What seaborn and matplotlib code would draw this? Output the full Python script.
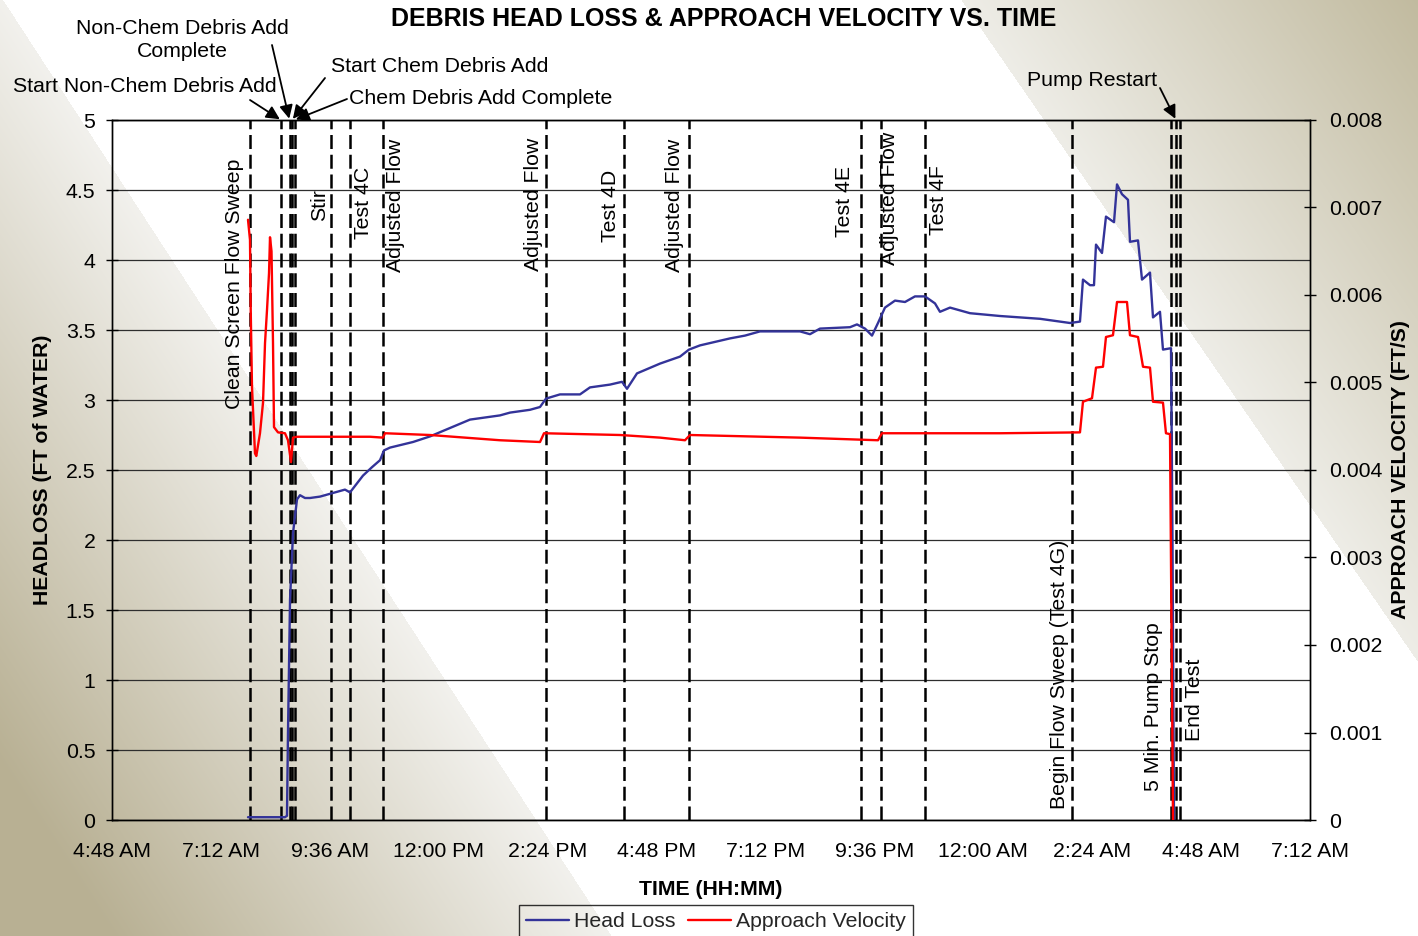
import numpy as np
import matplotlib
matplotlib.use("Agg")
import matplotlib.pyplot as plt
import matplotlib.transforms as mtransforms
from matplotlib.ticker import FixedLocator, FuncFormatter
import seaborn as sns

# ---------------------------------------------------------------------------
# Data (time in hours from midnight of the first test day)
# ---------------------------------------------------------------------------
headloss_hours = [7.797, 8.061, 8.612, 8.656, 8.678, 8.723, 8.789, 8.877, 8.943, 9.053,
                  9.163, 9.384, 9.604, 9.824, 9.934, 10.045, 10.331, 10.529, 10.706, 10.794,
                  10.926, 11.433, 11.808, 12.248, 12.689, 13.130, 13.350, 13.571, 14.011, 14.232,
                  14.364, 14.672, 15.113, 15.333, 15.774, 16.039, 16.149, 16.369, 16.876, 17.317,
                  17.515, 17.757, 18.419, 18.749, 19.080, 19.961, 20.181, 20.402, 21.063, 21.217,
                  21.394, 21.548, 21.680, 21.834, 22.055, 22.275, 22.495, 22.716, 22.936, 23.046,
                  23.267, 23.707, 24.368, 25.250, 25.911, 26.131, 26.197, 26.352, 26.440, 26.484,
                  26.616, 26.704, 26.881, 26.947, 27.057, 27.189, 27.233, 27.410, 27.498, 27.674,
                  27.740, 27.894, 27.960, 28.137, 28.170, 28.203]
headloss_ft = [0.02, 0.02, 0.02, 0.03, 0.62, 1.57, 2.05, 2.29, 2.32, 2.30,
               2.30, 2.31, 2.33, 2.35, 2.36, 2.34, 2.46, 2.52, 2.57, 2.64,
               2.66, 2.70, 2.74, 2.80, 2.86, 2.88, 2.89, 2.91, 2.93, 2.95,
               3.01, 3.04, 3.04, 3.09, 3.11, 3.13, 3.08, 3.19, 3.26, 3.31,
               3.36, 3.39, 3.44, 3.46, 3.49, 3.49, 3.47, 3.51, 3.52, 3.54,
               3.51, 3.46, 3.55, 3.66, 3.71, 3.70, 3.74, 3.74, 3.69, 3.63,
               3.66, 3.62, 3.60, 3.58, 3.55, 3.56, 3.86, 3.82, 3.82, 4.11,
               4.05, 4.31, 4.27, 4.54, 4.47, 4.43, 4.13, 4.14, 3.86, 3.91,
               3.59, 3.63, 3.36, 3.37, 2.00, 0.00]

velocity_hours = [7.797, 7.841, 7.857, 7.885, 7.951, 7.980, 8.061, 8.128, 8.172, 8.216,
                  8.260, 8.282, 8.315, 8.348, 8.370, 8.458, 8.612, 8.678, 8.745, 8.789,
                  8.877, 9.163, 10.045, 10.485, 10.772, 10.816, 11.808, 13.350, 14.232, 14.320,
                  15.995, 16.876, 17.427, 17.538, 19.961, 21.680, 21.768, 23.267, 24.368, 26.131,
                  26.197, 26.396, 26.484, 26.638, 26.704, 26.858, 26.947, 27.167, 27.233, 27.410,
                  27.520, 27.674, 27.740, 27.960, 28.026, 28.115, 28.181]
velocity_fps = [0.00686, 0.00663, 0.00583, 0.00495, 0.00419, 0.00416, 0.00442, 0.00477, 0.00545, 0.00583,
                0.00625, 0.00666, 0.00650, 0.00545, 0.00449, 0.00443, 0.00442, 0.00434, 0.00409, 0.00437,
                0.00438, 0.00438, 0.00438, 0.00438, 0.00437, 0.00442, 0.00440, 0.00434, 0.00432, 0.00442,
                0.00440, 0.00437, 0.00434, 0.00440, 0.00437, 0.00434, 0.00442, 0.00442, 0.00442, 0.00443,
                0.00478, 0.00482, 0.00517, 0.00518, 0.00552, 0.00554, 0.00592, 0.00592, 0.00554, 0.00552,
                0.00518, 0.00517, 0.00478, 0.00477, 0.00442, 0.00441, 0.0]

event_names = ["Clean Screen Flow Sweep", "Start Non-Chem Debris Add",
               "Non-Chem Debris Add\nComplete", "Start Chem Debris Add",
               "Chem Debris Add Complete", "Stir", "Test 4C", "Adjusted Flow",
               "Adjusted Flow", "Test 4D", "Adjusted Flow", "Test 4E",
               "Adjusted Flow", "Test 4F", "Begin Flow Sweep (Test 4G)",
               "5 Min. Pump Stop", "Pump Restart", "End Test"]
event_hours = [7.841, 8.524, 8.712, 8.767, 8.822, 9.626, 10.045, 10.772,
               14.364, 16.083, 17.515, 21.305, 21.746, 22.716, 25.955,
               28.137, 28.247, 28.335]

x_tick_hours = [4.8 + 2.4 * k for k in range(12)]
headloss_ticks = [0, 0.5, 1, 1.5, 2, 2.5, 3, 3.5, 4, 4.5, 5]
velocity_ticks = [0, 0.001, 0.002, 0.003, 0.004, 0.005, 0.006, 0.007, 0.008]

TITLE = "DEBRIS HEAD LOSS & APPROACH VELOCITY VS. TIME"

# ---------------------------------------------------------------------------
# Layout
# ---------------------------------------------------------------------------
W, H = 1418, 936
FS = 15.3

# rotated labels: event index -> (horizontal offset in px, vertical centre in ft)
side_labels = {0: (-15, 3.83), 5: (-11, 4.39), 6: (13, 4.41), 7: (12, 4.39),
               8: (-13, 4.40), 9: (-14, 4.39), 10: (-14, 4.39), 11: (-16, 4.42),
               12: (9, 4.44), 13: (13, 4.43), 14: (-12, 1.04), 15: (-18, 0.81),
               17: (15, 0.86)}
# callouts above the plot: event index -> text anchor px, alignment, arrow tail px
callouts = {1: ((13, 86), "left", (250, 100)),
            2: ((182, 40), "center", (272, 45)),
            3: ((331, 66), "left", (325, 78)),
            4: ((349, 98), "left", (347, 99)),
            16: ((1027, 80), "left", (1160, 88))}

sns.set_theme(style="white")
plt.rcParams["font.family"] = ["Liberation Sans", "DejaVu Sans"]
plt.rcParams["axes.unicode_minus"] = False


def fx(px):
    return px / W


def fy(py):
    return 1 - py / H


fig = plt.figure(figsize=(W / 100, H / 100), dpi=100)

# decorative backdrop: shaded corners with a white diagonal band
yy, xx = np.mgrid[0:H, 0:W].astype(float)
img = np.ones((H, W, 3))
d_left = (3 + 0.65 * yy) - xx
d_right = xx - (961 + 0.69 * yy)
light_l = np.array([242, 241, 237]) / 255
dark_l = np.array([184, 176, 147]) / 255
t_l = np.clip(d_left / 500, 0, 1)[..., None]
left_col = light_l + (dark_l - light_l) * t_l
light_r = np.array([238, 237, 231]) / 255
dark_r = np.array([192, 185, 157]) / 255
t_r = np.clip(d_right / 470, 0, 1)[..., None]
right_col = light_r + (dark_r - light_r) * t_r
img = np.where((d_left > 0)[..., None], left_col, img)
img = np.where((d_right > 0)[..., None], right_col, img)
bg = fig.add_axes([0, 0, 1, 1], zorder=-10)
bg.imshow(img, aspect="auto", extent=(0, 1, 0, 1), interpolation="bilinear")
bg.set_axis_off()

ax = fig.add_axes([fx(112), fy(820), fx(1310) - fx(112), fy(120) - fy(820)])
ax.set_facecolor("none")
ax2 = ax.twinx()
ax2.set_facecolor("none")

# horizontal grid
ax.yaxis.grid(True, color="#2e2e2e", lw=0.9)
ax.xaxis.grid(False)
ax.set_axisbelow(True)

# event markers
for h in event_hours:
    ax.axvline(h, color="black", lw=1.8, ls=(0, (5.6, 2.3)), zorder=2)

# data series
sns.lineplot(x=headloss_hours, y=headloss_ft, ax=ax, color="#333399", lw=1.7,
             label="Head Loss", estimator=None, sort=False, zorder=4)
sns.lineplot(x=velocity_hours, y=velocity_fps, ax=ax2, color="#ff0000", lw=1.7,
             label="Approach Velocity", estimator=None, sort=False, zorder=4)

h1, l1 = ax.get_legend_handles_labels()
h2, l2 = ax2.get_legend_handles_labels()
for a in (ax, ax2):
    if a.get_legend() is not None:
        a.get_legend().remove()

# axes limits and ticks
ax.set_xlim(4.8, 31.2)
ax.set_ylim(0, 5)
ax2.set_ylim(0, 0.008)


def clock(h, _pos=None):
    t = round((h % 24) * 60)
    hh, mm = divmod(t, 60)
    hh %= 24
    suffix = "AM" if hh < 12 else "PM"
    h12 = hh % 12 or 12
    return f"{h12}:{mm:02d} {suffix}"


ax.xaxis.set_major_locator(FixedLocator(x_tick_hours))
ax.xaxis.set_major_formatter(FuncFormatter(clock))
ax.yaxis.set_major_locator(FixedLocator(headloss_ticks))
ax.yaxis.set_major_formatter(FuncFormatter(lambda v, p: f"{v:g}"))
ax2.yaxis.set_major_locator(FixedLocator(velocity_ticks))
ax2.yaxis.set_major_formatter(FuncFormatter(lambda v, p: f"{v:g}"))

ax.tick_params(axis="x", direction="out", length=6, width=1, color="black",
               labelsize=FS, pad=10, labelcolor="black")
ax.tick_params(axis="y", direction="inout", length=9, width=1, color="black",
               labelsize=FS, pad=7.5, labelcolor="black", left=True)
ax2.tick_params(axis="y", direction="inout", length=9, width=1, color="black",
                labelsize=FS, pad=9, labelcolor="black", right=True)

for a in (ax, ax2):
    for s in a.spines.values():
        s.set_color("black")
        s.set_linewidth(1.0)

ax.set_xlabel("TIME (HH:MM)", fontsize=FS, fontweight="bold", color="black")
ax.xaxis.set_label_coords(0.5, (820 - 880) / 700)
ax.set_ylabel("HEADLOSS (FT of WATER)", fontsize=FS, fontweight="bold", color="black")
ax.yaxis.set_label_coords((52 - 112) / 1198, 0.5)
ax2.set_ylabel("APPROACH VELOCITY (FT/S)", fontsize=FS, fontweight="bold", color="black")
ax2.yaxis.set_label_coords((1391 - 112) / 1198, 0.5)

# rotated event labels
for idx, (dx, yc) in side_labels.items():
    tr = mtransforms.offset_copy(ax.transData, fig=fig, x=dx * 0.72, y=0, units="points")
    ax.text(event_hours[idx], yc, event_names[idx], rotation=90, ha="center",
            va="center", fontsize=FS, color="black", transform=tr, zorder=3)

# callouts above the plot area
for idx, ((tx, ty), ha, (ax_px, ay_px)) in callouts.items():
    fig.text(fx(tx), fy(ty), event_names[idx], ha=ha, va="center", fontsize=FS,
             color="black", linespacing=1.25)
    ax.annotate("", xy=(event_hours[idx], 5.0), xycoords="data",
                xytext=(fx(ax_px), fy(ay_px)), textcoords="figure fraction",
                annotation_clip=False,
                arrowprops=dict(arrowstyle="-|>", color="black", lw=1.3,
                                mutation_scale=20, shrinkA=0, shrinkB=1))

fig.text(fx(724), fy(19), TITLE, ha="center", va="center", fontsize=18,
         fontweight="bold", color="black")

leg = fig.legend(h1 + h2, l1 + l2, loc="upper center",
                 bbox_to_anchor=(fx(716), fy(905)), ncol=2, frameon=True,
                 fancybox=False, edgecolor="black", facecolor="none",
                 fontsize=FS, handlelength=2.0, handletextpad=0.25,
                 columnspacing=0.6, borderpad=0.35, borderaxespad=0)
leg.get_frame().set_linewidth(1.0)

fig.savefig("out.png", dpi=100)
